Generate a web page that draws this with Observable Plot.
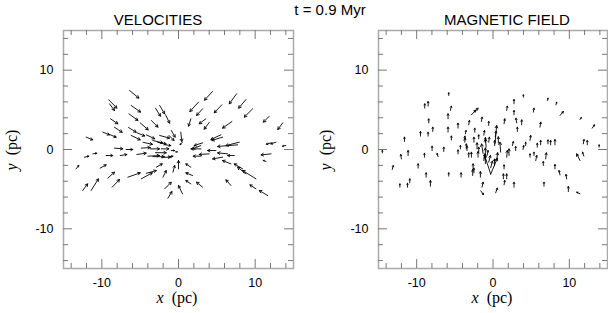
<!DOCTYPE html>
<html><head><meta charset="utf-8">
<script src="https://cdn.jsdelivr.net/npm/d3@7"></script>
<script src="https://cdn.jsdelivr.net/npm/@observablehq/plot@0.6"></script>
<style>
body{margin:0;background:#fff;}
#wrap{position:relative;width:608px;height:313px;overflow:hidden;font-family:"Liberation Sans",Arial,Helvetica,sans-serif;background:#fff;}
.t{position:absolute;white-space:nowrap;line-height:1;color:#000;transform:translate(-50%,-50%);}
.ttl{font-size:15px;}
.lab{font-family:"Liberation Serif","Times New Roman",serif;font-size:16px;}
#plots{position:absolute;left:0;top:0;display:flex;}
#plots svg{display:block;}
</style></head><body>
<div id="wrap">
<div id="plots"></div>
<div class="t ttl" style="left:330px;top:9px">t = 0.9 Myr</div>
<div class="t ttl" style="left:158px;top:19px">VELOCITIES</div>
<div class="t ttl" style="left:507px;top:19px">MAGNETIC FIELD</div>
<div class="t lab" style="left:177px;top:298px"><i>x</i>&nbsp;&nbsp;(pc)</div>
<div class="t lab" style="left:492px;top:298px"><i>x</i>&nbsp;&nbsp;(pc)</div>
<div class="t lab" style="left:12px;top:150px;transform:translate(-50%,-50%) rotate(-90deg)"><i>y</i>&nbsp;&nbsp;(pc)</div>
<div class="t lab" style="left:326px;top:150px;transform:translate(-50%,-50%) rotate(-90deg)"><i>y</i>&nbsp;&nbsp;(pc)</div>
</div>
<script>
// tick values (pc)
const majorTicks = [-10, 0, 10];
const minorTicks = [-14, -12, -8, -6, -4, -2, 2, 4, 6, 8, 12, 14];
const axisDomain = [-15, 15];

// velocity vectors: [x, y, u, v] (tail position and components, pc)
const velocities = [
  [-6.39,7.44,1.22,-0.97],[-9.09,6.26,1.05,-1.05],[-9.0,5.76,0.65,-0.84],[-6.17,5.55,1.22,-0.84],
  [-3.0,5.2,0.65,-1.0],[-2.46,5.55,0.65,-1.05],[-8.87,3.87,0.96,-0.63],[-6.47,4.5,1.18,-0.84],
  [-8.35,2.8,1.0,-0.63],[-5.0,3.36,1.05,-0.88],[-3.55,3.66,0.87,-0.84],[-1.68,4.37,0.52,-1.05],
  [-6.52,2.77,1.0,-0.59],[-9.87,2.19,0.87,-0.34],[-9.0,1.89,0.87,-0.34],[-12.05,1.56,0.87,-0.34],
  [-6.17,1.77,1.18,-0.55],[-4.2,1.85,1.09,-0.5],[-3.34,1.13,1.3,-0.3],[-2.46,1.77,1.3,-0.34],
  [-1.24,1.77,0.65,-0.63],[-0.94,2.4,0.5,-0.84],[-8.35,0.17,1.09,-0.08],[-6.83,0.0,0.87,0],
  [-4.86,0.17,1.18,0.08],[-3.7,0.08,1.22,0],[-2.25,0.08,1.0,0],[-0.94,-0.13,0.44,0],
  [-11.18,-0.55,0.52,0.08],[-12.27,-0.97,0.57,0.13],[-9.44,-0.76,0.87,0],[-7.6,-0.76,0.87,0.13],
  [-5.43,-0.63,1.22,0.17],[-4.0,-0.84,1.52,0.08],[-3.34,-0.9,1.5,0],[-1.38,-0.97,0.65,0.13],
  [-13.36,-2.44,0.35,0.42],[-10.22,-2.35,0.78,0.42],[-9.22,-3.61,0.87,0.76],[-6.6,-3.49,1.61,0.55],
  [-4.86,-3.7,1.44,0.76],[-4.2,-3.0,1.3,0.34],[-2.9,-2.23,0.78,0.42],[-2.03,-3.49,0.44,0.84],
  [-0.72,-2.86,0.22,0.84],[-8.65,-4.75,0.96,0.97],[-11.4,-5.17,0.96,1.47],[-12.5,-5.17,0.65,0.84],
  [-1.81,-4.96,0.87,0.84],[-1.38,-6.14,0.52,0.84],[-5.4,2.1,1.0,-0.4],[-4.6,0.9,1.2,-0.25],
  [-3.0,-0.4,1.4,0],[-2.2,-1.0,1.2,0.05],[-2.7,0.9,1.1,-0.2],[-1.8,0.6,0.8,-0.1],
  [2.61,5.97,-1.13,-1.18],[4.44,7.31,-1.05,-1.09],[3.14,5.13,-0.78,-0.84],[7.58,7.02,-0.96,-1.26],
  [8.8,6.3,-0.96,-1.09],[5.66,5.63,-1.0,-1.0],[9.67,5.13,-1.09,-1.05],[11.85,4.2,-0.78,-0.76],
  [13.6,3.36,-0.65,-0.84],[1.61,3.87,-0.3,-0.92],[3.57,3.87,-0.87,-0.63],[4.0,3.4,-0.65,-0.84],
  [6.97,3.53,-1.22,-0.84],[0.3,2.19,0.13,-1.18],[5.53,1.85,-1.3,-0.59],[5.75,1.56,-1.39,-0.42],
  [3.14,0.84,-1.09,-0.34],[2.92,0.5,-1.09,-0.42],[7.93,0.92,-1.74,-0.42],[7.71,0.59,-2.61,-0.21],
  [12.1,0.84,-0.65,-0.17],[12.7,0.92,-0.65,-0.21],[14.0,0.5,-0.44,-0.08],[2.92,0.08,-1.3,0],
  [4.88,-0.13,-1.09,0],[6.4,-0.55,-1.3,0.13],[7.28,-0.76,-0.87,0],[2.92,-0.84,-1.0,0],
  [4.0,-0.55,-1.3,-0.08],[12.07,-0.55,-1.3,-0.13],[5.75,-0.97,-1.3,-0.21],[6.84,-1.81,-1.09,0.42],
  [8.36,-2.44,-1.09,0.63],[11.41,-1.51,-0.35,0.13],[10.1,-3.7,-1.74,1.05],[8.8,-3.07,-1.09,0.84],
  [1.61,-2.23,-0.65,0.42],[1.83,-3.28,-0.87,0.34],[1.61,-4.33,-0.65,0.42],[3.14,-4.75,-0.78,0.63],
  [6.84,-4.54,-0.65,0.71],[10.1,-4.96,-0.78,0.5],[11.63,-5.8,-1.09,0.63],[0.52,-5.59,-0.52,1.05],
  [0.0,-2.44,0.0,1.05],[0.5,0.9,-0.3,-0.3],[-0.4,-0.3,0.25,0.0]
];

// magnetic field vectors: [x, y, u, v]
const magnetic = [
  [-5.8,6.81,0,0.34],[-8.94,5.21,0,0.55],[-8.5,5.46,0,0.59],[-5.58,4.92,0.13,0.55],
  [-5.89,3.87,0,0.63],[-8.42,3.36,0,0.5],[-2.83,4.37,0.6,0.6],[-2.5,4.7,0.55,0.5],
  [-3.18,3.11,0.09,0.55],[-4.58,2.69,0,0.63],[-1.52,3.53,0.09,0.55],[-0.56,3.03,0,0.5],
  [-7.89,2.27,0,0.55],[-9.5,1.68,0,0.59],[-8.5,1.68,0,0.5],[-5.89,2.19,0,0.63],
  [-5.45,1.2,0,0.5],[-11.6,1.01,0,0.55],[-7.98,-0.13,0,0.55],[-6.45,-0.25,0,0.55],
  [-3.62,1.98,0.09,0.42],[-3.7,0.92,0.09,0.5],[-4.27,0.08,0,0.42],[-4.58,-0.55,0,0.5],
  [-2.39,2.19,0,0.5],[-1.87,1.35,0,0.5],[-1.2,1.8,0.09,0.6],[-1.0,0.9,0,0.6],
  [-3.4,-0.13,0,0.55],[-3.18,-0.97,0,0.55],[-2.83,-0.97,0,0.63],[-1.96,-0.97,0,0.7],
  [-1.0,-1.3,0,0.63],[-11.12,-0.76,0,0.63],[-12.0,-1.18,-0.09,0.55],[-8.98,-0.97,0,0.5],
  [-7.2,-0.9,-0.13,0.42],[-14.5,-0.42,0,0.3],[-13.2,-2.52,0.13,0.5],[-9.81,-2.35,0,0.55],
  [-8.76,-3.49,0,0.55],[-5.8,-3.36,0,0.42],[-4.18,-3.49,0,0.55],[-2.61,-2.44,0,0.63],
  [-2.66,-3.28,0,0.76],[-1.65,-3.49,0,0.71],[-1.43,-4.75,0.13,0.63],[-1.6,-5.2,0.35,-0.5],
  [-12.2,-4.75,0,0.42],[-11.2,-4.75,0,0.5],[-10.9,-4.2,0,0.5],[-8.2,-4.62,0,0.71],
  [-3.8,1.14,0.13,0.55],[-3.5,0.08,0,0.63],[-2.5,0.92,0,0.63],[-2.09,0.08,0,0.76],
  [-1.87,-0.34,0,0.63],[-0.9,0.29,-0.09,1.05],[-0.56,0.92,0.09,0.63],[-1.2,-1.39,0.13,0.84],
  [-0.78,-0.76,0.13,0.63],[-0.56,-1.6,0.22,0.84],[-0.3,-2.3,0.22,0.84],[-2.5,-2.94,0,0.59],
  [-0.3,-3.1,-0.8,2.35],[-0.3,-3.1,0.87,2.0],[-1.0,-1.8,0.0,2.0],[0.26,0.72,0.22,2.3],
  [-1.3,-0.5,-0.2,1.2],
  [3.98,6.6,0,0.3],[2.75,5.76,0,0.55],[1.79,4.92,0.09,0.55],[2.75,4.37,0,0.55],
  [5.28,4.71,0.09,0.5],[7.12,6.18,0.09,0.3],[8.25,5.63,0.09,0.34],[8.78,4.29,0.44,0.5],
  [1.45,3.24,0.09,0.63],[3.1,3.36,-0.09,0.59],[3.76,3.11,0,0.63],[3.19,2.27,0,0.55],
  [6.16,2.82,0.09,0.63],[11.4,3.78,0.17,0.25],[13.0,2.69,0.3,0.42],[0.22,0.5,0,0.63],
  [1.0,-0.34,-0.09,1.26],[1.79,-0.97,0.09,0.84],[2.1,-0.76,0,0.84],[2.54,0.5,0.13,0.5],
  [2.97,-0.13,0,0.5],[3.93,0.0,0.09,0.5],[4.28,0.5,0,0.42],[4.85,1.14,0.09,0.63],
  [5.8,0.29,0,0.5],[6.24,0.59,0,0.55],[7.2,0.71,0,0.5],[7.55,0.59,0,0.55],
  [8.12,0.59,0,0.67],[4.85,-0.97,0,0.42],[5.6,-1.39,0.13,0.63],[5.37,-0.76,0,0.42],
  [6.59,-2.02,0,0.5],[6.9,-1.18,0.09,0.76],[8.12,-2.44,0,0.55],[8.78,-3.2,-0.13,0.55],
  [9.65,-3.7,-0.09,0.55],[9.87,-5.3,0,0.63],[11.4,-5.59,-0.44,0.21],[6.68,-4.62,0,0.5],
  [2.75,-4.75,0,0.63],[0.35,-5.46,0.22,0.59],[1.45,-4.45,0.09,0.55],[1.36,-3.7,0,0.63],
  [1.79,-3.7,0,0.63],[1.45,-2.44,0,0.5],[11.4,-1.39,-0.44,0.84],[11.9,-0.84,-0.17,0.5],
  [11.83,0.71,0.09,0.55],[12.35,0.59,0,0.55],[13.9,0.29,0,0.3],[0.3,1.6,0.1,0.7],
  [0.7,0.8,0,0.8],[0.5,-1.3,0.1,0.9],[0.2,-2.0,0.0,0.8]
];

const W = 304, H = 313, MT = 30, MB = 45;
const frameColor = "#aaa", tickColor = "#777";

function panel(vectors, ml, mr) {
  const innerW = W - ml - mr, innerH = H - MT - MB;
  const data = vectors.map(([x, y, u, v]) => ({x1: x, y1: y, x2: x + u, y2: y + v}));
  const fmt = d => String(d);
  const tk = (vals, len) => [
    Plot.tickX(vals, {x: d => d, insetBottom: innerH - len, stroke: tickColor}),
    Plot.tickX(vals, {x: d => d, insetTop: innerH - len, stroke: tickColor}),
    Plot.tickY(vals, {y: d => d, insetRight: innerW - len, stroke: tickColor}),
    Plot.tickY(vals, {y: d => d, insetLeft: innerW - len, stroke: tickColor})
  ];
  return Plot.plot({
    width: W, height: H,
    marginLeft: ml, marginRight: mr, marginTop: MT, marginBottom: MB,
    style: {fontFamily: '"Liberation Sans", Arial, Helvetica, sans-serif', fontSize: "12.5px", color: "#000", background: "transparent"},
    x: {domain: axisDomain, ticks: majorTicks, tickSize: 0, tickPadding: 10, tickFormat: fmt, label: null},
    y: {domain: axisDomain, ticks: majorTicks, tickSize: 0, tickPadding: 10, tickFormat: fmt, label: null},
    marks: [
      Plot.frame({stroke: frameColor, strokeWidth: 1.5}),
      ...tk(majorTicks, 9),
      ...tk(minorTicks, 5),
      Plot.arrow(data, {x1: "x1", y1: "y1", x2: "x2", y2: "y2", stroke: "#000", strokeWidth: 0.9, headLength: 4.5})
    ]
  });
}

const host = document.getElementById("plots");
host.append(panel(velocities, 63, 11));
host.append(panel(magnetic, 74, 1));
</script>
</body></html>
